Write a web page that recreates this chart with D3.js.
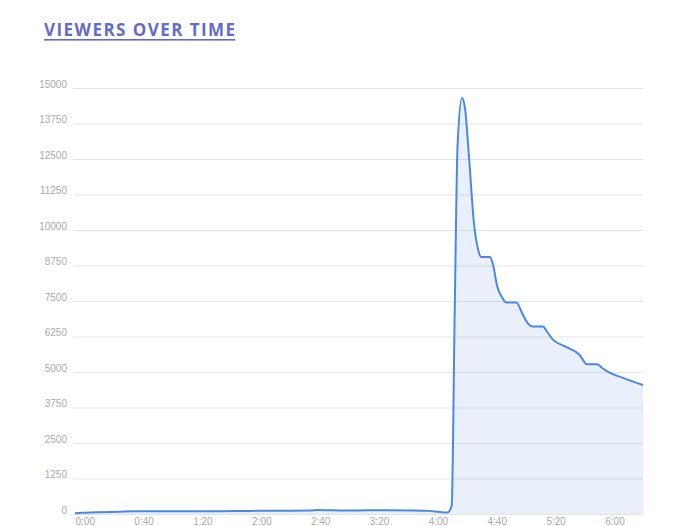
<!DOCTYPE html>
<html>
<head>
<meta charset="utf-8">
<script src="https://cdn.jsdelivr.net/npm/d3@7"></script>
<style>
  html, body { margin: 0; padding: 0; background: #fff; }
  svg { display: block; }
</style>
</head>
<body>
<svg id="chart" width="680" height="526"></svg>
<script>
// ---- data ----
const titleText = "VIEWERS OVER TIME";
const minutes = [0, 5, 15, 30, 40, 60, 80, 100, 120, 140, 160, 165, 175, 190, 210, 230, 240, 248, 253, 256, 258, 260, 263, 265, 268, 271, 274, 276, 282, 284, 287, 290, 293, 300, 304, 308, 311, 318, 321, 325, 333, 343, 348, 355, 358, 362, 372, 386];
const viewers = [25, 40, 60, 80, 95, 100, 95, 100, 110, 115, 120, 140, 130, 125, 135, 125, 110, 70, 50, 300, 7000, 13000, 14650, 14300, 12400, 10300, 9300, 9050, 9050, 8800, 8000, 7650, 7450, 7450, 7050, 6700, 6600, 6600, 6400, 6130, 5900, 5600, 5270, 5270, 5150, 5010, 4800, 4540];
const yTicks = [0, 1250, 2500, 3750, 5000, 6250, 7500, 8750, 10000, 11250, 12500, 13750, 15000];
const xTicks = [0, 40, 80, 120, 160, 200, 240, 280, 320, 360];

const svg = d3.select("#chart");
const x = d3.scaleLinear().domain([0, 386]).range([75, 643]);
const y = d3.scaleLinear().domain([0, 15000]).range([514, 88]);

// title
const title = svg.append("text")
  .attr("x", 44).attr("y", 36)
  .attr("font-family", "'Open Sans', sans-serif")
  .attr("font-weight", 700)
  .attr("font-size", 17)
  .attr("letter-spacing", 1.45)
  .attr("fill", "#5f6dc9")
  .text(titleText);
const tb = title.node().getBBox();
svg.append("rect").attr("x", 44).attr("y", 39).attr("width", tb.width - 1.4).attr("height", 1.6).attr("fill", "#5f6dc9");

// grid + y labels
const yAxis = d3.axisLeft(y).tickValues(yTicks).tickSize(-(643 - 73)).tickPadding(6).tickFormat(d3.format("d"));
const gy = svg.append("g").attr("transform", "translate(73,0)").call(yAxis);
gy.select(".domain").remove();
gy.selectAll(".tick line").attr("stroke", "#e3e3e3").attr("stroke-width", 1);
gy.selectAll(".tick text").attr("fill", "#aaaaaa").attr("font-size", 10)
  .attr("font-family", "'Liberation Sans', Arial, sans-serif").attr("dy", "-0.1em");

// x labels
const fmt = m => `${Math.floor(m / 60)}:${String(m % 60).padStart(2, "0")}`;
const xAxis = d3.axisBottom(x).tickValues(xTicks).tickSize(0).tickPadding(0).tickFormat(fmt);
const gx = svg.append("g").attr("transform", "translate(0,514)").call(xAxis);
gx.select(".domain").remove();
gx.selectAll(".tick text").attr("fill", "#aaaaaa").attr("font-size", 10)
  .attr("font-family", "'Liberation Sans', Arial, sans-serif")
  .attr("text-anchor", "start").attr("dy", "1.1em");

// area + line
const pts = minutes.map((m, i) => [m, viewers[i]]);
const area = d3.area().x(d => x(d[0])).y0(y(0)).y1(d => y(d[1])).curve(d3.curveMonotoneX);
const line = d3.line().x(d => x(d[0])).y(d => y(d[1])).curve(d3.curveMonotoneX);
svg.append("path").datum(pts).attr("d", area).attr("fill", "#4a86e8").attr("fill-opacity", 0.12);
svg.append("path").datum(pts).attr("d", line).attr("fill", "none").attr("stroke", "#4a88e2").attr("stroke-width", 2).attr("stroke-linejoin", "round");
</script>
</body>
</html>
